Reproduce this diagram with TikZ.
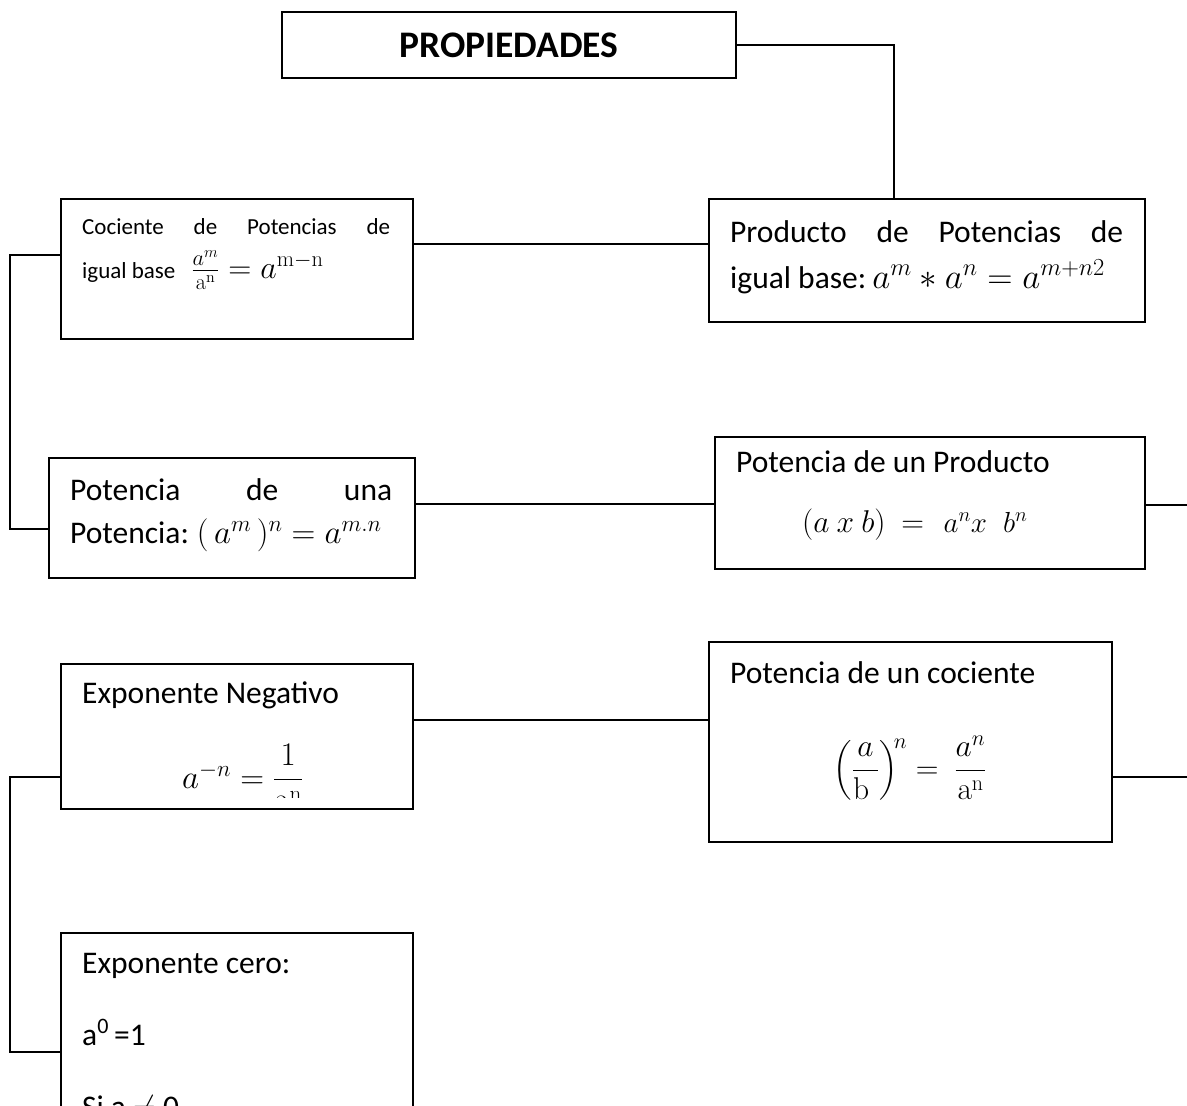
\RequirePackage{fix-cm}
\documentclass[tikz,border=0pt]{standalone}
\usepackage{amsmath}
\usepackage[no-math]{fontspec}
\setmainfont{Carlito}
\usetikzlibrary{calc}
\newcommand{\mathsz}[1]{\fontsize{#1}{#1}\selectfont}
\begin{document}
\begin{tikzpicture}[x=1pt,y=-1pt,
  box/.style={draw, line width=1.8pt, rectangle, inner sep=0pt, anchor=north west},
  link/.style={draw, line width=1.8pt},
  big/.style={font=\fontsize{31.5}{38}\selectfont, inner sep=0pt, anchor=base west},
  small/.style={font=\fontsize{23}{28}\selectfont, inner sep=0pt, anchor=base west},
  title/.style={font=\fontsize{37.5}{45}\selectfont\bfseries, inner sep=0pt, anchor=base},
  ]
\useasboundingbox (0,0) rectangle (1187,1106);
\clip (0,0) rectangle (1187,1106);

% boxes
\node[box, minimum width=454pt, minimum height=66pt]  (prop)    at (281,11)  {};
\node[box, minimum width=352pt, minimum height=140pt] (coc)     at (60,198)  {};
\node[box, minimum width=436pt, minimum height=123pt] (prod)    at (708,198) {};
\node[box, minimum width=366pt, minimum height=120pt] (pot)     at (48,457)  {};
\node[box, minimum width=430pt, minimum height=132pt] (potprod) at (714,436) {};
\node[box, minimum width=352pt, minimum height=145pt] (neg)     at (60,663)  {};
\node[box, minimum width=403pt, minimum height=200pt] (potcoc)  at (708,641) {};
\node[box, minimum width=352pt, minimum height=200pt] (cero)    at (60,932)  {};

% connectors
\coordinate (edge) at (1195,0);
\path ($(prod.north west)!0.425!(prod.north east)$) coordinate (k0);
\draw[link] (prop.east) -| (k0);

\path ($(coc.north east)+(0,46)$) coordinate (k1);
\draw[link] (k1) -- (k1 -| prod.west);

\path ($(coc.north west)+(0,57)$) coordinate (k2);
\path ($(pot.north west)+(0,72)$) coordinate (k3);
\draw[link] (k2) -- ++(-50,0) |- (k3);

\path ($(pot.north east)+(0,47)$) coordinate (k4);
\draw[link] (k4) -- (k4 -| potprod.west);

\path ($(potprod.north east)+(0,69)$) coordinate (k5);
\draw[link] (k5) -- (k5 -| edge);

\path ($(neg.north east)+(0,57)$) coordinate (k6);
\draw[link] (k6) -- (k6 -| potcoc.west);

\path ($(potcoc.north east)+(0,136)$) coordinate (k7);
\draw[link] (k7) -- (k7 -| edge);

\path ($(neg.north west)+(0,114)$) coordinate (k8);
\path ($(cero.north west)+(0,120)$) coordinate (k9);
\draw[link] (k8) -- ++(-50,0) |- (k9);

% texts
\node[title] (tProp) at (509,57) {PROPIEDADES};

\node[small] (tCoc1) at (82,234) {\hbox to 308pt{Cociente\hfill de\hfill Potencias\hfill de}};
\node[small] (tCoc2) at (82,278) {igual base\hspace{16pt}{\mathsz{32}$\frac{a^m}{\mathrm{a}^{\mathrm{n}}}=a^{\mathrm{m-n}}$}};

\node[big] (tProd1) at (730,242) {\hbox to 393pt{Producto\hfill de\hfill Potencias\hfill de}};
\node[big] (tProd2) at (730,288) {igual base:\hspace{6pt}{\mathsz{35}$a^m * a^n = a^{m+n2}$}};

\node[big] (tPot1) at (70,500) {\hbox to 322pt{Potencia\hfill de\hfill una}};
\node[big] (tPot2) at (70,543) {Potencia:\hspace{8pt}{\mathsz{33}$(\,a^m\,)^n = a^{m.n}$}};

\node[big] (tPP1) at (736,472) {Potencia de un Producto};
\node[big] (tPP2) at (802,532) {$(a\ x\ b)\ =\ \ \,${\mathsz{29}$a^n x\;\; b^n$}};

\node[big] (tNeg1) at (82,703) {Exponente Negativo};
\begin{scope}
  \clip (60,663) rectangle (412,797);
  \node[big] (tNeg2) at (182,788) {{\mathsz{33}$a^{-n} = \dfrac{1}{\mathrm{a}^{\mathrm{n}}}$}};
\end{scope}

\node[big] (tPC1) at (730,683) {Potencia de un cociente};
\node[big, anchor=base] (tPC2) at (910,778) {$\left(\dfrac{a}{\mathrm{b}\;}\right)^{\!n} =\ \dfrac{a^n}{\mathrm{a}^{\mathrm{n}}}$};

\node[big] (tC1) at (82,973) {Exponente cero:};
\node[big] (tC2) at (82,1045) {a\textsuperscript{0}\,=1};
\node[big] (tC3) at (82,1117) {Si a $\neq$ 0};
\end{tikzpicture}
\end{document}
